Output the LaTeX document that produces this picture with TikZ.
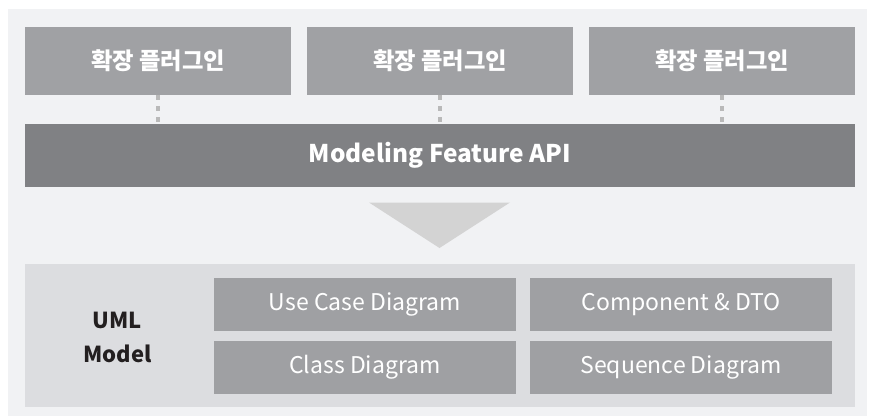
\documentclass[tikz,border=0pt]{standalone}
\usepackage{fontspec}
\setmainfont{Noto Sans CJK KR}
\usetikzlibrary{positioning}

\definecolor{bgcol}{HTML}{F1F2F4}
\definecolor{plugcol}{HTML}{A0A1A4}
\definecolor{apicol}{HTML}{808184}
\definecolor{arrowcol}{HTML}{D3D3D3}
\definecolor{panelcol}{HTML}{DCDDE0}
\definecolor{diagcol}{HTML}{9FA0A3}
\definecolor{dotcol}{HTML}{B9B9B9}
\definecolor{darktext}{HTML}{231F20}

\begin{document}
\begin{tikzpicture}[x=1pt, y=-1pt, node distance={16pt},
    box/.style = {rectangle, inner sep=0pt, outer sep=0pt},
    plugin/.style = {box, fill=plugcol, text=white, minimum width=266pt, minimum height=68pt, font=\fontsize{23.3}{27}\selectfont\bfseries},
    api/.style = {box, fill=apicol, text=white, minimum width=830pt, minimum height=63pt, font=\fontsize{24.4}{28}\selectfont\bfseries},
    panel/.style = {box, fill=panelcol, minimum width=830pt, minimum height=143pt},
    diagram/.style = {box, fill=diagcol, text=white, minimum width=302pt, minimum height=53pt, font=\fontsize{23}{27}\selectfont},
    link/.style = {dotcol, line width=4pt, dash pattern=on 5pt off 6pt}]

    % background
    \fill[white] (0,0) rectangle (875,416);
    \fill[bgcol] (8,9) rectangle (867,416);

    % plugins on top
    \node[plugin] (p1) at (158,61) {확장 플러그인};
    \node[plugin, right=of p1] (p2) {확장 플러그인};
    \node[plugin, right=of p2] (p3) {확장 플러그인};

    \node[api] (api) at (440,155.5) {Modeling Feature API};

    \foreach \p in {p1, p2, p3}
        \draw[link] (\p.south) -- (\p.south |- api.north);

    % arrow down
    \fill[arrowcol] (369,202.5) -- (510,202.5) -- (439.5,248) -- cycle;

    % uml model
    \node[panel] (model) at (440,335.5) {};
    \node[box, text=darktext, align=center, font=\fontsize{22}{34}\selectfont\bfseries] (uml) at (117.5,337) {UML\\Model};
    \node[diagram] (usecase) at (365,304.5) {Use Case Diagram};
    \node[diagram, right=14pt of usecase] (comp) {Component \& DTO};
    \node[diagram, below=10pt of usecase] (class) {Class Diagram};
    \node[diagram, below=10pt of comp] (seq) {Sequence Diagram};
\end{tikzpicture}
\end{document}
